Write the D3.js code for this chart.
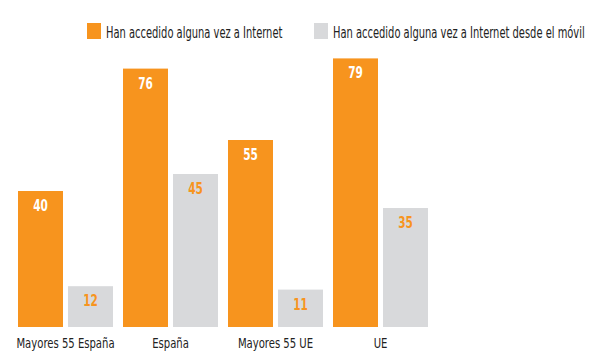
<!DOCTYPE html>
<html>
<head>
<meta charset="utf-8">
<script src="https://cdn.jsdelivr.net/npm/d3@7"></script>
<style>
  body { margin: 0; background: #fff; }
  svg { display: block; }
  text { font-family: "DejaVu Sans Condensed", "DejaVu Sans", sans-serif; }
</style>
</head>
<body>
<div id="chart"></div>
<script>
var categories = ["Mayores 55 España", "España", "Mayores 55 UE", "UE"];
var seriesNames = ["Han accedido alguna vez a Internet", "Han accedido alguna vez a Internet desde el móvil"];
var internet = [40, 76, 55, 79];
var movil = [12, 45, 11, 35];

var colors = ["#F7941E", "#D8D9DB"];
var labelColors = ["#fff", "#F7941E"];

var width = 600, height = 363;

var svg = d3.select("#chart").append("svg")
   .attr("width", width)
   .attr("height", height);

// the reference uses a narrow font, so squeeze the condensed one horizontally
function squeeze(sel, k) {
   sel.each(function() {
      var t = d3.select(this);
      var x = +t.attr("x"), y = +t.attr("y");
      t.attr("x", 0).attr("y", 0)
         .attr("transform", "translate(" + x + "," + y + ") scale(" + k + ",1)");
   });
}

var rows = categories.map(function(c, i) {
   return { cat: c, values: [internet[i], movil[i]] };
});

var x0 = d3.scaleBand().domain(categories).range([18, 428]).paddingInner(10 / 105).paddingOuter(0);
var x1 = d3.scaleBand().domain([0, 1]).range([0, x0.bandwidth()]).paddingInner(0.1).paddingOuter(0);
var y = d3.scaleLinear().domain([0, 80]).range([327, 55]);

var groups = svg.selectAll("g.group").data(rows)
   .enter().append("g")
   .attr("class", "group")
   .attr("transform", function(d) { return "translate(" + x0(d.cat) + ",0)"; });

groups.each(function(d) {
   var g = d3.select(this);
   d.values.forEach(function(v, s) {
      g.append("rect")
         .attr("x", x1(s))
         .attr("y", y(v))
         .attr("width", x1.bandwidth())
         .attr("height", y(0) - y(v))
         .attr("fill", colors[s]);

      g.append("text")
         .attr("class", "val")
         .attr("x", x1(s) + x1.bandwidth() / 2)
         .attr("y", y(v) + 20)
         .attr("text-anchor", "middle")
         .attr("fill", labelColors[s])
         .style("font-size", "15px")
         .style("font-weight", "bold")
         .text(v);
   });

   g.append("text")
      .attr("class", "cat")
      .attr("x", x0.bandwidth() / 2)
      .attr("y", 348)
      .attr("text-anchor", "middle")
      .attr("fill", "#222")
      .style("font-size", "14px")
      .text(d.cat);
});

// legend
var legendX = [87, 314];
seriesNames.forEach(function(name, s) {
   var lg = svg.append("g").attr("transform", "translate(" + legendX[s] + ",23)");
   lg.append("rect")
      .attr("width", 14)
      .attr("height", 16)
      .attr("fill", colors[s]);
   lg.append("text")
      .attr("class", "leg")
      .attr("x", 19)
      .attr("y", 15)
      .attr("fill", "#222")
      .style("font-size", "15px")
      .text(name);
});

squeeze(svg.selectAll("text.cat"), 0.8);
squeeze(svg.selectAll("text.leg"), 0.735);
squeeze(svg.selectAll("text.val"), 0.78);
</script>
</body>
</html>
